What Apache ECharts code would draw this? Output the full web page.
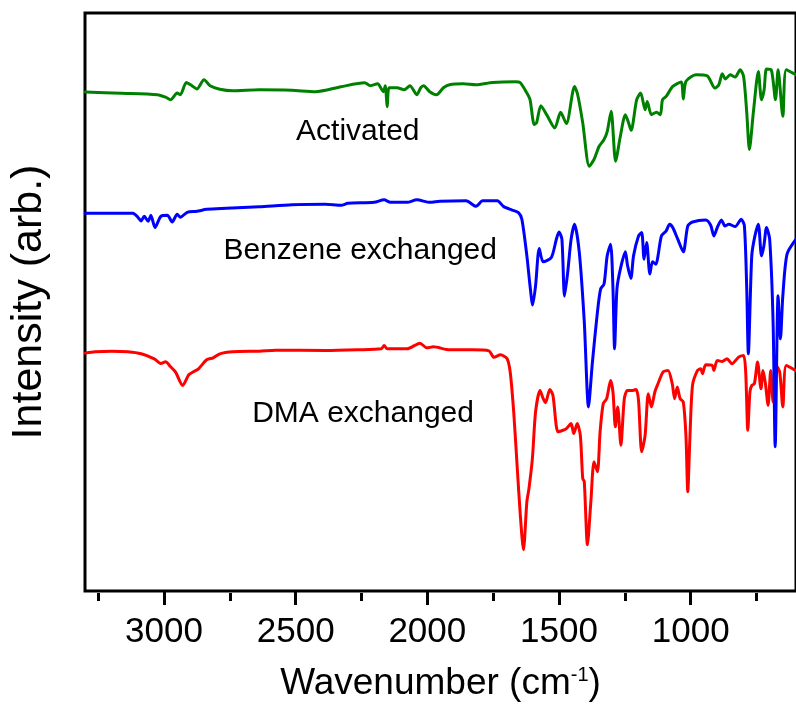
<!DOCTYPE html>
<html>
<head>
<meta charset="utf-8">
<script src="https://cdn.jsdelivr.net/npm/echarts@6/dist/echarts.min.js"></script>
<style>
  html, body { margin: 0; padding: 0; background: #fff; }
  #chart { width: 796px; height: 707px; }
</style>
</head>
<body>
<div id="chart"></div>
<script>
// FTIR spectra, stacked with vertical offsets (arbitrary intensity units)
const FONT = 'Arial, "Liberation Sans", Helvetica, sans-serif';

// Activated sample
const actWn = [3299,3162,3025,2994,2975,2950,2938,2915,2894,2875,2848,2825,2788,2739,2638,2515,2425,2328,2238,2216,2189,2167,2160,2152,2145,2115,2088,2066,2040,2025,2014,1991,1965,1939,1916,1864,1815,1752,1666,1647,1622,1610,1594,1585,1569,1547,1516,1494,1472,1441,1429,1410,1385,1367,1348,1329,1317,1302,1285,1267,1248,1236,1226,1205,1190,1173,1165,1149,1130,1115,1107,1093,1068,1036,1028,1018,980,937,908,893,880,868,850,831,812,799,787,777,762,743,731,721,712,694,678,668,650,637,600];
const actInt = [500.7,499.5,498,495.5,493,499.7,498,510.3,507,503.7,513,507,503.5,502,503,502.5,501,506,510,507,509,501,507,486,505,505,503,507,498,505,507,501,498,505,508,509,508,510.3,511,510,499.7,493,468,470,487,478,464.7,480.3,469,506.3,498,470,426.3,433,446,453,461,481.3,431.3,456.3,478,470,462.3,493,499.7,483,491.3,478,480.3,478,493,496.3,506.3,510.7,493.7,511.3,518,517,504.7,508,519,513.7,518,515.7,523,516.3,480,443,480,521.3,493,503,523.7,523,493,523,476.3,523,518];

// Benzene-exchanged sample
const benWn = [3299,3118,3099,3087,3075,3060,3050,3034,3012,2987,2969,2950,2938,2912,2875,2838,2763,2638,2514,2389,2327,2302,2202,2164,2140,2077,2040,1990,1953,1853,1815,1790,1734,1710,1678,1654,1641,1622,1610,1600,1589,1575,1560,1529,1510,1500,1489,1479,1467,1454,1441,1423,1404,1388,1373,1354,1342,1329,1317,1304,1295,1289,1280,1267,1248,1240,1227,1217,1198,1186,1177,1167,1155,1145,1132,1124,1111,1093,1080,1068,1049,1028,1011,993,943,924,912,899,883,870,855,831,808,796,787,781,768,756,743,731,722,712,700,687,679,668,659,650,634,600];
const benInt = [379,379,375,371.3,376,371,377,364.7,376,377,370.3,378,375,380,381,383,384,385.5,387.5,388,387,389,390,392.5,390,390,392.5,390,391,391.5,386,391.5,391.5,385.7,382.3,379.7,373,336.3,306.3,287,306.3,343.7,330.3,334.7,353,360.3,353,295.7,319.7,353,368,340,270,184.7,230,280,303,308,336.3,348,303,243,303,323,340.3,327,313.7,336.3,356.3,359.7,333,349.7,318,330.3,328,336.3,356.3,361.3,368,364.7,353,340.3,366.3,370.3,372.3,367,356.3,364.7,372.3,366.3,368,365.7,373,366.3,303,238,336.3,356.3,368,336.3,346.3,364.7,353,270,144.7,296.3,253,296.3,338,353];

// DMA-exchanged sample
const dmaWn = [3299,3262,3199,3137,3087,3037,3012,2994,2975,2956,2929,2906,2888,2869,2838,2813,2788,2738,2638,2576,2389,2264,2175,2164,2152,2077,2028,2002,1977,1915,1828,1766,1747,1722,1697,1685,1672,1660,1647,1635,1622,1614,1601,1589,1572,1560,1551,1535,1523,1504,1485,1472,1454,1444,1431,1419,1410,1404,1392,1379,1367,1354,1344,1332,1319,1304,1295,1286,1277,1265,1252,1240,1220,1207,1198,1186,1173,1161,1149,1136,1124,1105,1086,1070,1061,1051,1040,1028,1018,1011,1003,993,974,962,955,943,918,912,899,880,862,843,818,799,791,783,775,768,758,746,733,725,716,706,696,687,675,662,650,637,600];
const dmaInt = [238.7,240,240.7,240,238,233,228.3,230,225,219.7,206.3,217,220,223,232,234,238,240,240.7,241.7,241.3,242,243,246.3,243,243,248.7,244,245,242,242,241,234.5,237,233,219,179.7,129.7,76.3,41.3,89.7,103,133,179.7,201.3,193,189,202.3,196.3,159.7,161.3,163,168,158,168,156.3,113,109.7,46.3,89.7,129.7,119.7,159.7,188,193,211.3,199.7,164.7,184.7,146.3,193,201.3,201.3,202.3,191.3,139.7,156.3,198,184.7,199.7,208,219.7,221.3,208,193,204.7,193,189.7,156.3,99.7,153,206.3,221.3,223,218,227,226.3,221.3,231.3,230.3,233,228,234.7,236.3,219.7,161.3,199.7,206.3,208,229.7,203,221.3,208,186.3,221.3,189.7,226.3,219.7,184.7,226.3,221];

// Axis ticks and spectrum labels
const majorTicks = [1000, 1500, 2000, 2500, 3000];
const minorTicks = [750, 1250, 1750, 2250, 2750, 3250];
const sampleNames = ['Activated', 'Benzene exchanged', 'DMA exchanged'];
const labelAt = [[2264, 461], [2255, 341], [2244, 178]];

function zip(xs, ys) {
  const n = Math.min(xs.length, ys.length);
  const out = [];
  for (let i = 0; i < n; i++) out.push([xs[i], ys[i]]);
  return out;
}

function spectrum(name, xs, ys, color, idx) {
  return {
    type: 'line',
    name: name,
    data: zip(xs, ys),
    showSymbol: false,
    symbol: 'none',
    smooth: 0.25,
    lineStyle: { color: color, width: 3, join: 'round', cap: 'round' },
    markPoint: {
      symbol: 'circle',
      symbolSize: 1,
      itemStyle: { color: 'rgba(0,0,0,0)' },
      label: {
        show: true,
        position: 'inside',
        formatter: name,
        fontSize: 30,
        fontFamily: FONT,
        color: '#000'
      },
      data: [{ coord: labelAt[idx] }]
    }
  };
}

const chart = echarts.init(document.getElementById('chart'), null, { renderer: 'canvas' });

chart.setOption({
  animation: false,
  backgroundColor: '#fff',
  grid: {
    left: 83, top: 13, width: 722, height: 580,
    show: true, borderColor: '#000', borderWidth: 3, backgroundColor: 'transparent'
  },
  xAxis: [
    {
      type: 'value', position: 'bottom',
      min: 600, max: 3300, inverse: true,
      axisLine: { show: false },
      axisTick: { show: true, customValues: majorTicks, length: 14, lineStyle: { color: '#000', width: 3 } },
      axisLabel: {
        show: true, customValues: majorTicks, fontSize: 35, margin: 24, color: '#000', fontFamily: FONT,
        formatter: function (v) { return String(v); }
      },
      splitLine: { show: false },
      name: '{a|Wavenumber (cm}{s|-1}{a|)}',
      nameLocation: 'middle',
      nameGap: 74,
      nameTextStyle: {
        rich: {
          a: { fontSize: 37, fontFamily: FONT, color: '#000' },
          s: { fontSize: 20, fontFamily: FONT, color: '#000', verticalAlign: 'top' }
        }
      }
    },
    {
      // minor ticks, drawn along the bottom edge
      type: 'value', position: 'top', offset: -580,
      min: 600, max: 3300, inverse: true,
      axisLine: { show: false },
      axisTick: { show: true, inside: true, customValues: minorTicks, length: 8, lineStyle: { color: '#000', width: 3 } },
      axisLabel: { show: false },
      splitLine: { show: false }
    }
  ],
  yAxis: {
    type: 'value', min: 0, max: 580,
    axisLine: { show: false },
    axisTick: { show: false },
    axisLabel: { show: false },
    splitLine: { show: false },
    name: 'Intensity (arb.)',
    nameLocation: 'middle',
    nameGap: 34,
    nameTextStyle: { fontSize: 43, fontFamily: FONT, color: '#000' }
  },
  series: [
    spectrum(sampleNames[2], dmaWn, dmaInt, '#ff0000', 2),
    spectrum(sampleNames[1], benWn, benInt, '#0000ff', 1),
    spectrum(sampleNames[0], actWn, actInt, '#008000', 0)
  ]
});
</script>
</body>
</html>
